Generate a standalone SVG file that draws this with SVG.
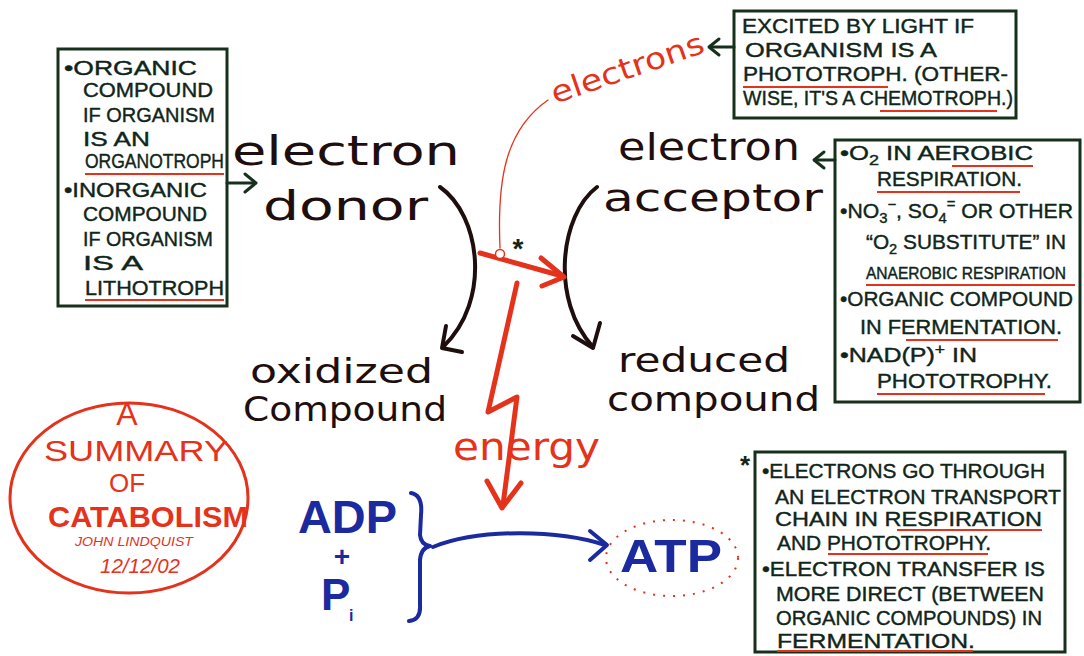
<svg xmlns="http://www.w3.org/2000/svg" width="1084" height="656" viewBox="0 0 1084 656">
<style>
.bg{fill:#ffffff}
.box{fill:none;stroke:#16301c;stroke-width:3}
.bt{font-family:"Liberation Sans",Arial,sans-serif;font-size:20px;fill:#10251a;stroke:#10251a;stroke-width:0.4}
.ul{stroke:#e4321b;stroke-width:2;fill:none}
.big{font-family:"DejaVu Sans",sans-serif;fill:#1e0e0e}
.red{fill:#e4321b}
.rt{font-family:"Liberation Sans",Arial,sans-serif;fill:#e4321b}
.blue{font-family:"Liberation Sans",Arial,sans-serif;font-weight:bold;fill:#1b2a9e}
.blk{fill:none;stroke:#1e0e0e;stroke-width:4;stroke-linecap:round;stroke-linejoin:round}
.rl{fill:none;stroke:#e4321b;stroke-linecap:round;stroke-linejoin:round}
.bl{fill:none;stroke:#1b2a9e;stroke-width:4;stroke-linecap:round;stroke-linejoin:round}
.gl{fill:none;stroke:#16301c;stroke-width:3;stroke-linecap:round;stroke-linejoin:round}
</style>
<rect class="bg" x="0" y="0" width="1084" height="656"/>

<g id="donor-sources">
<rect class="box" x="58" y="49" width="169" height="257"/>
<text class="bt" x="64" y="75" textLength="133" lengthAdjust="spacingAndGlyphs">•ORGANIC</text>
<text class="bt" x="83" y="97" textLength="130" lengthAdjust="spacingAndGlyphs">COMPOUND</text>
<text class="bt" x="83" y="122" textLength="132" lengthAdjust="spacingAndGlyphs">IF ORGANISM</text>
<text class="bt" x="83" y="146" textLength="67" lengthAdjust="spacingAndGlyphs">IS AN</text>
<text class="bt" x="85" y="168" textLength="139" lengthAdjust="spacingAndGlyphs">ORGANOTROPH</text>
<line class="ul" x1="85" y1="174" x2="224" y2="174"/>
<text class="bt" x="64" y="197" textLength="143" lengthAdjust="spacingAndGlyphs">•INORGANIC</text>
<text class="bt" x="83" y="221" textLength="124" lengthAdjust="spacingAndGlyphs">COMPOUND</text>
<text class="bt" x="83" y="246" textLength="130" lengthAdjust="spacingAndGlyphs">IF ORGANISM</text>
<text class="bt" x="83" y="270" textLength="60" lengthAdjust="spacingAndGlyphs">IS A</text>
<text class="bt" x="85" y="295" textLength="139" lengthAdjust="spacingAndGlyphs">LITHOTROPH</text>
<line class="ul" x1="85" y1="300" x2="224" y2="300"/>
</g>

<g id="excitation-note">
<rect class="box" x="734" y="11" width="282" height="107"/>
<text class="bt" x="742" y="33" textLength="232" lengthAdjust="spacingAndGlyphs">EXCITED BY LIGHT IF</text>
<text class="bt" x="745" y="57" textLength="192" lengthAdjust="spacingAndGlyphs">ORGANISM  IS  A</text>
<text class="bt" x="743" y="81" textLength="265" lengthAdjust="spacingAndGlyphs">PHOTOTROPH. (OTHER-</text>
<line class="ul" x1="743" y1="87" x2="888" y2="87"/>
<text class="bt" x="743" y="105" textLength="270" lengthAdjust="spacingAndGlyphs">WISE, IT'S A CHEMOTROPH.)</text>
<line class="ul" x1="880" y1="111" x2="997" y2="111"/>
</g>

<g id="acceptor-types">
<rect class="box" x="835" y="140" width="245" height="262"/>
<text class="bt" x="840" y="160" textLength="193" lengthAdjust="spacingAndGlyphs">•O<tspan font-size="14" dy="5">2</tspan><tspan dy="-5"> IN AEROBIC</tspan></text>
<line class="ul" x1="952" y1="166" x2="1033" y2="166"/>
<text class="bt" x="877" y="186" textLength="145" lengthAdjust="spacingAndGlyphs">RESPIRATION.</text>
<line class="ul" x1="877" y1="192" x2="1020" y2="192"/>
<text class="bt" x="840" y="218" textLength="233" lengthAdjust="spacingAndGlyphs">•NO<tspan font-size="14" dy="5">3</tspan><tspan font-size="14" dy="-14">−</tspan><tspan dy="9">, SO</tspan><tspan font-size="14" dy="5">4</tspan><tspan font-size="14" dy="-14">=</tspan><tspan dy="9"> OR OTHER</tspan></text>
<text class="bt" x="866" y="249" textLength="200" lengthAdjust="spacingAndGlyphs">“O<tspan font-size="14" dy="5">2</tspan><tspan dy="-5"> SUBSTITUTE” IN</tspan></text>
<text class="bt" x="866" y="279" font-size="16" textLength="200" lengthAdjust="spacingAndGlyphs" style="font-size:16px">ANAEROBIC RESPIRATION</text>
<line class="ul" x1="866" y1="285" x2="1075" y2="285"/>
<text class="bt" x="840" y="306" textLength="233" lengthAdjust="spacingAndGlyphs">•ORGANIC COMPOUND</text>
<text class="bt" x="860" y="334" textLength="202" lengthAdjust="spacingAndGlyphs">IN FERMENTATION.</text>
<line class="ul" x1="906" y1="340" x2="1058" y2="340"/>
<text class="bt" x="840" y="362" textLength="137" lengthAdjust="spacingAndGlyphs">•NAD(P)<tspan font-size="14" dy="-8">+</tspan><tspan dy="8"> IN</tspan></text>
<text class="bt" x="877" y="388" textLength="175" lengthAdjust="spacingAndGlyphs">PHOTOTROPHY.</text>
<line class="ul" x1="877" y1="394" x2="1045" y2="394"/>
</g>

<g id="transfer-note">
<rect class="box" x="755" y="452" width="310" height="200"/>
<text x="740" y="474" font-family="Liberation Sans, Arial, sans-serif" font-size="26" font-weight="bold" fill="#10251a">*</text>
<text class="bt" x="762" y="478" textLength="283" lengthAdjust="spacingAndGlyphs">•ELECTRONS GO THROUGH</text>
<text class="bt" x="775" y="504" textLength="286" lengthAdjust="spacingAndGlyphs">AN ELECTRON TRANSPORT</text>
<text class="bt" x="775" y="526" textLength="267" lengthAdjust="spacingAndGlyphs">CHAIN IN RESPIRATION</text>
<line class="ul" x1="897" y1="530" x2="1042" y2="530"/>
<text class="bt" x="777" y="550" textLength="214" lengthAdjust="spacingAndGlyphs">AND PHOTOTROPHY.</text>
<line class="ul" x1="828" y1="554" x2="988" y2="554"/>
<text class="bt" x="762" y="576" textLength="283" lengthAdjust="spacingAndGlyphs">•ELECTRON TRANSFER IS</text>
<text class="bt" x="776" y="601" textLength="268" lengthAdjust="spacingAndGlyphs">MORE DIRECT (BETWEEN</text>
<text class="bt" x="776" y="625" textLength="266" lengthAdjust="spacingAndGlyphs">ORGANIC COMPOUNDS) IN</text>
<text class="bt" x="777" y="648" textLength="198" lengthAdjust="spacingAndGlyphs">FERMENTATION.</text>
<line class="ul" x1="777" y1="651" x2="973" y2="651"/>
</g>

<g id="electron-donor">
<text class="big" x="232" y="165" font-size="40" textLength="228" lengthAdjust="spacingAndGlyphs">electron</text>
<text class="big" x="263" y="220" font-size="40" textLength="165" lengthAdjust="spacingAndGlyphs">donor</text>
</g>

<g id="electron-acceptor">
<text class="big" x="618" y="160" font-size="38" textLength="182" lengthAdjust="spacingAndGlyphs">electron</text>
<text class="big" x="603" y="211" font-size="38" textLength="220" lengthAdjust="spacingAndGlyphs">acceptor</text>
</g>

<g id="oxidized-compound">
<text class="big" x="250" y="383" font-size="34" textLength="183" lengthAdjust="spacingAndGlyphs">oxidized</text>
<text class="big" x="243" y="421" font-size="34" textLength="204" lengthAdjust="spacingAndGlyphs">Compound</text>
</g>

<g id="reduced-compound">
<text class="big" x="618" y="372" font-size="34" textLength="172" lengthAdjust="spacingAndGlyphs">reduced</text>
<text class="big" x="607" y="411" font-size="34" textLength="213" lengthAdjust="spacingAndGlyphs">compound</text>
</g>

<g id="title-circle">
<ellipse cx="129" cy="498" rx="119" ry="95" fill="none" stroke="#e4321b" stroke-width="3"/>
<text class="rt" x="127" y="425" font-size="32" text-anchor="middle">A</text>
<text class="rt" x="44" y="461" font-size="30" textLength="184" lengthAdjust="spacingAndGlyphs">SUMMARY</text>
<text class="rt" x="127" y="492" font-size="26" text-anchor="middle">OF</text>
<text class="rt" x="48" y="527" font-size="30" font-weight="bold" textLength="200" lengthAdjust="spacingAndGlyphs">CATABOLISM</text>
<text class="rt" x="75" y="546" font-size="12" font-style="italic" textLength="118" lengthAdjust="spacingAndGlyphs">JOHN LINDQUIST</text>
<text class="rt" x="100" y="573" font-size="20" font-style="italic" textLength="80" lengthAdjust="spacingAndGlyphs">12/12/02</text>
</g>

<g id="adp-pi">
<text class="blue" x="298" y="533" font-size="46" textLength="99" lengthAdjust="spacingAndGlyphs">ADP</text>
<text class="blue" x="342" y="566" font-size="28" text-anchor="middle">+</text>
<text class="blue" x="321" y="610" font-size="44">P</text>
<text class="blue" x="349" y="621" font-size="16" font-weight="normal">i</text>
</g>

<g id="atp">
<ellipse cx="672" cy="558" rx="66" ry="38" fill="none" stroke="#e4321b" stroke-width="2" stroke-dasharray="2 8"/>
<text class="blue" x="620" y="572" font-size="46" textLength="102" lengthAdjust="spacingAndGlyphs">ATP</text>
</g>

<g id="energy-label">
<text class="big red" x="453" y="460" font-size="38" textLength="147" lengthAdjust="spacingAndGlyphs">energy</text>
</g>

<g id="electrons-label">
<text class="big red" x="555" y="104" font-size="30" textLength="160" lengthAdjust="spacingAndGlyphs" transform="rotate(-19 555 104)">electrons</text>
</g>

<g id="connectors">
<line class="gl" x1="227" y1="183" x2="255" y2="183"/>
<polyline class="gl" points="245,174 256,183 245,192"/>
<line class="gl" x1="734" y1="47" x2="710" y2="47"/>
<polyline class="gl" points="719,39 709,47 719,55"/>
<line class="gl" x1="835" y1="160" x2="815" y2="160"/>
<polyline class="gl" points="824,152 814,160 824,168"/>
<path class="blk" d="M440,187 C480,215 492,300 443,347"/>
<polyline class="blk" points="446,326 442,348 462,352"/>
<path class="blk" d="M597,187 C560,215 550,300 593,347"/>
<polyline class="blk" points="573,336 593,348 600,323"/>
<path class="rl" stroke-width="1.3" d="M500,248 C497,180 505,130 548,100"/>
<line class="rl" stroke-width="5" x1="480" y1="253" x2="562" y2="276"/>
<polyline class="rl" stroke-width="5" points="541,258 564,277 542,286"/>
<circle cx="500" cy="254" r="4.5" fill="#ffffff" stroke="#e4321b" stroke-width="1.5"/>
<text x="518" y="258" font-family="Liberation Sans, Arial, sans-serif" font-size="28" font-weight="bold" fill="#10251a" text-anchor="middle">*</text>
<polyline class="rl" stroke-width="5" points="517,283 488,412 517,397 503,505"/>
<polyline class="rl" stroke-width="5" points="487,481 502,508 521,483"/>
<path class="bl" stroke-width="3.5" d="M411,493 Q423,495 421,515 L420,535 Q421,545 430,546 Q421,548 420,560 L420,605 Q421,620 409,621"/>
<path class="bl" d="M433,547 C480,528 560,530 605,545"/>
<polyline class="bl" points="590,531 607,545 590,560"/>
</g>
</svg>
